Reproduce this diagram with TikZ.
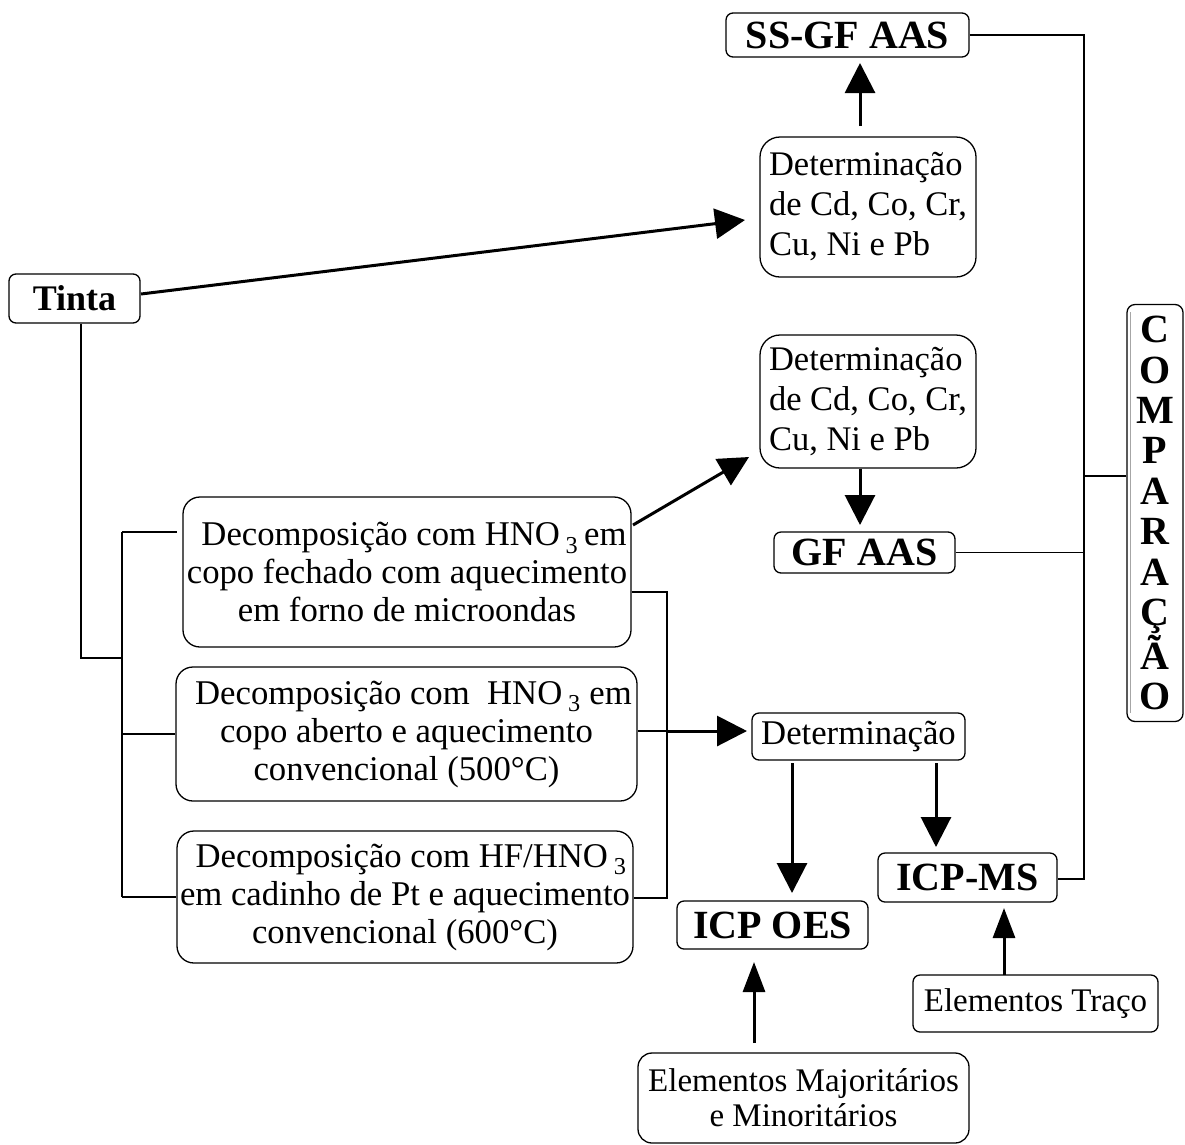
\documentclass[tikz,border=0pt]{standalone}
\usepackage{fontspec}
\setmainfont{Liberation Serif}
\usetikzlibrary{arrows.meta}
\begin{document}
\begin{tikzpicture}[x=1pt,y=-1pt,
  box/.style={draw, line width=1.3pt, rounded corners=7pt, inner sep=0pt, align=center},
  bigbox/.style={box, rounded corners=17pt},
  detbox/.style={box, rounded corners=20pt, align=left},
  conn/.style={line width=1.7pt},
  arr/.style={line width=3pt, -{Triangle[length=30pt,width=30pt]}},
  arrn/.style={line width=3pt, -{Triangle[length=30pt,width=22pt]}},
  reg/.style={font=\fontsize{34.7}{38}\selectfont},
  detf/.style={font=\fontsize{34.5}{40}\selectfont},
  sml/.style={font=\fontsize{33}{35}\selectfont},
  bld/.style={font=\fontsize{40}{40}\selectfont\bfseries},
]
\path[fill=white, use as bounding box] (0,0) rectangle (1185,1144);

% nodes
\node[box, bld, minimum width=243pt, minimum height=44pt] (ssgf) at (847.5,35) {SS-GF AAS};
\node[detbox, detf, minimum width=216pt, minimum height=140pt] (det1) at (868,207) {Determinação\\de Cd, Co, Cr,\\Cu, Ni e Pb};
\node[box, font=\fontsize{36}{36}\selectfont\bfseries, minimum width=131pt, minimum height=49pt] (tinta) at (74.5,298.5) {Tinta};
\node[detbox, detf, minimum width=216pt, minimum height=133pt] (det2) at (868,401.5) {Determinação\\de Cd, Co, Cr,\\Cu, Ni e Pb};
\node[box, bld, minimum width=181pt, minimum height=41pt] (gfaas) at (864.5,552.5) {GF AAS};
\node[box, font=\fontsize{40}{40.4}\selectfont\bfseries, rounded corners=8pt, minimum width=56pt, minimum height=417pt] (comp) at (1155,513) {C\\O\\M\\P\\A\\R\\A\\Ç\\Ã\\O};
\node[bigbox, reg, minimum width=448pt, minimum height=150pt] (dec1) at (407,572) {\hspace*{14pt}Decomposição com HNO\,\textsubscript{3}\,em\\copo fechado com aquecimento\\em forno de microondas};
\node[bigbox, reg, minimum width=461pt, minimum height=134pt] (dec2) at (406.5,734) {\hspace*{14pt}Decomposição com\ \ HNO\,\textsubscript{3} em\\copo aberto e aquecimento\\convencional (500°C)};
\node[bigbox, reg, minimum width=456pt, minimum height=132pt] (dec3) at (405,897) {\hspace*{12pt}Decomposição com HF/HNO\,\textsubscript{3}\\em cadinho de Pt e aquecimento\\convencional (600°C)};
\node[box, reg, minimum width=213pt, minimum height=47pt] (det3) at (858.5,736.5) {Determinação};
\node[box, bld, minimum width=191pt, minimum height=48pt] (icpoes) at (772.5,925) {ICP OES};
\node[box, bld, minimum width=179pt, minimum height=49pt] (icpms) at (967.5,877.5) {ICP-MS};
\node[box, sml, minimum width=245pt, minimum height=57pt] (eltr) at (1035.5,1003.5) {Elementos Traço};
\node[box, sml, rounded corners=14pt, minimum width=331pt, minimum height=90pt] (elmaj) at (803.5,1098) {Elementos Majoritários\\e Minoritários};

% double left border of comparação
\draw[gray!70, line width=0.9pt] (1130.5,312) -- (1130.5,713);

% coordinates
\coordinate (rbus) at (1084,879);
\coordinate (lbtop) at (122,532);
\coordinate (lbbot) at (122,897);
\coordinate (tbus) at (81,658);
\coordinate (dbus) at (667,898);
\coordinate (a1s) at (860,126);
\coordinate (a1e) at (860,63);
\coordinate (a2s) at (141,294);
\coordinate (a2e) at (745,220);
\coordinate (a3e) at (860,525);
\coordinate (a4s) at (633,525);
\coordinate (a4e) at (749,457);
\coordinate (a5s) at (667,731);
\coordinate (a5e) at (747,731);
\coordinate (a6s) at (792,763);
\coordinate (a6e) at (792,893);
\coordinate (a7s) at (936,763);
\coordinate (a7e) at (936,847);
\coordinate (a8s) at (754,1043);
\coordinate (a8e) at (754,962);
\coordinate (a9s) at (1004,975);
\coordinate (a9e) at (1004,908);

% thin connectors
\draw[conn] (ssgf.east) -| (rbus) -- (icpms.east |- rbus);
\draw[conn] (gfaas.east) -- (gfaas.east -| rbus);
\draw[conn] (comp.west |- 0,476) -- (rbus |- 0,476);
\draw[conn] (tinta.south -| tbus) -- (tbus) -- (tbus -| lbtop);
\draw[conn] (lbtop) -- (lbbot);
\draw[conn] (lbtop) -- ([xshift=-5pt]lbtop -| dec1.west);
\draw[conn] (dec2.west -| lbtop) -- (dec2.west);
\draw[conn] (lbbot) -- (lbbot -| dec3.west);
\draw[conn, line width=1.3pt] (dec1.east |- 0,592) -- (dbus |- 0,592) -- (dbus) -- (dec3.east |- dbus);
\draw[conn, line width=1.3pt] (dec2.east |- a5s) -- (a5s);

% arrows
\draw[arr] (a1s) -- (a1e);
\draw[arr] (a2s) -- (a2e);
\draw[arr] (det2.south -| a3e) -- (a3e);
\draw[arr] (a4s) -- (a4e);
\draw[arr] (a5s) -- (a5e);
\draw[arr] (a6s) -- (a6e);
\draw[arr] (a7s) -- (a7e);
\draw[arrn] (a8s) -- (a8e);
\draw[arrn] (a9s) -- (a9e);
\end{tikzpicture}
\end{document}
